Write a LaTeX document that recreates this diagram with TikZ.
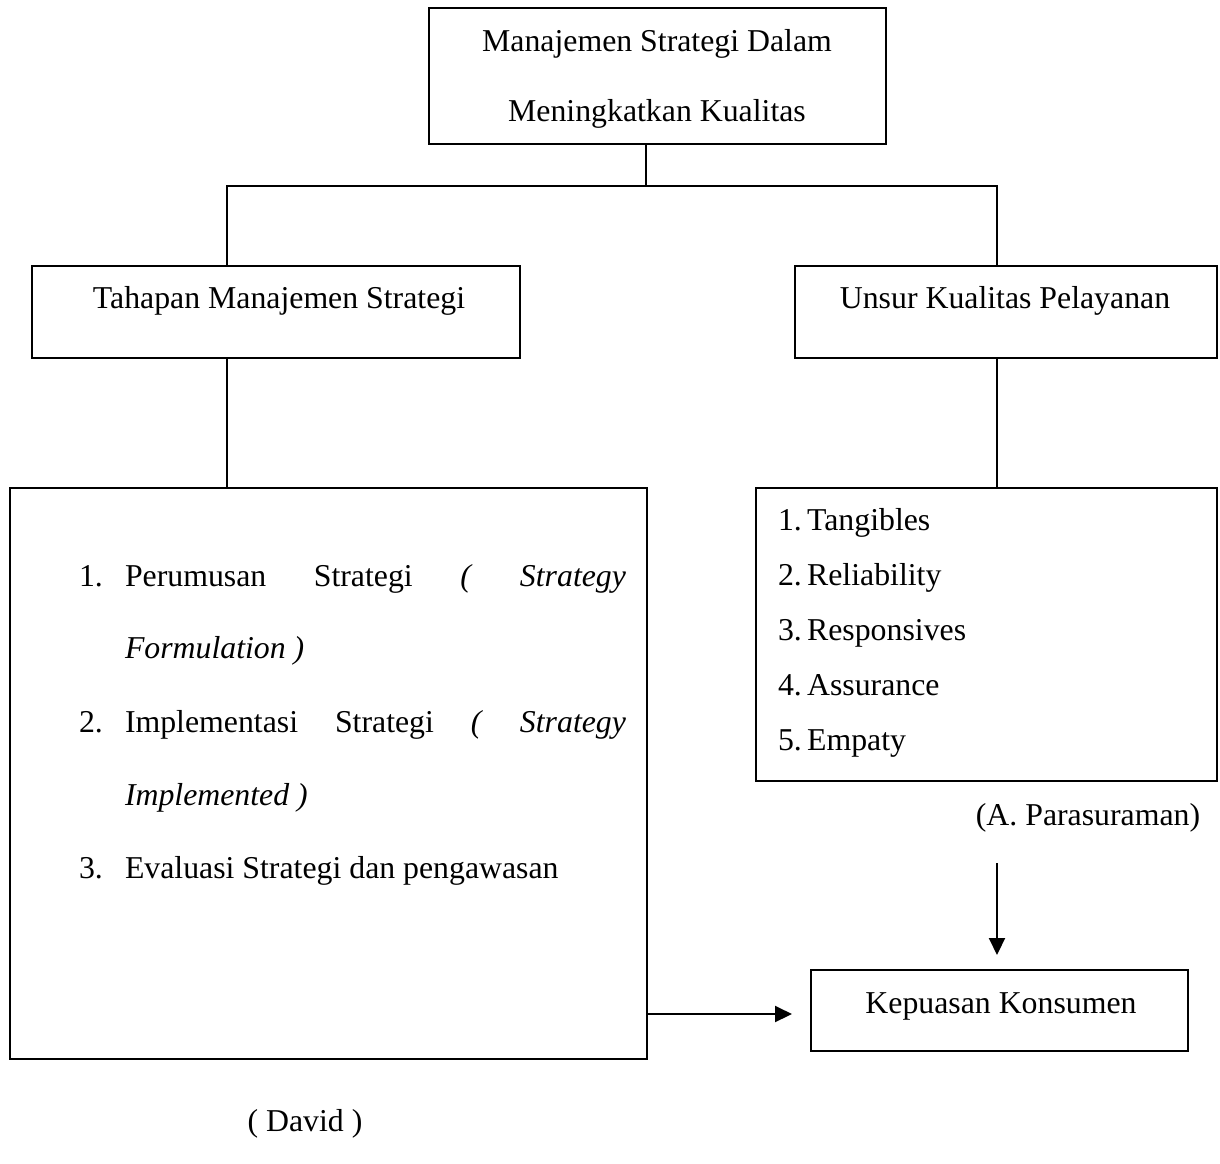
\documentclass[tikz,border=0pt]{standalone}
\usepackage{fontspec}
\setmainfont{Liberation Serif}
\usetikzlibrary{arrows.meta}

\begin{document}
\begin{tikzpicture}[
        x=0.5pt, y=-0.5pt,
        >={Triangle[length=8.5pt,width=8pt]},
        line width=1pt,
        every node/.style={font=\fontsize{15.9}{19}\selectfont, inner sep=0pt},
        box/.style={draw, line width=1pt, anchor=north west},
        teks/.style={anchor=base},
        butir/.style={anchor=base west}
    ]
        \useasboundingbox (0,0) rectangle (1220,1163);

        % Kotak utama
        \node[box, minimum width=228.5pt, minimum height=68pt] (utama) at (428,7) {};
        \node[teks] (utama1) at (657,51) {Manajemen Strategi Dalam};
        \node[teks] (utama2) at (657,121) {Meningkatkan Kualitas};

        % Cabang
        \node[box, minimum width=244pt, minimum height=46pt] (tahapan) at (31,265) {};
        \node[teks] (tahapanteks) at (279,308) {Tahapan Manajemen Strategi};

        \node[box, minimum width=211pt, minimum height=46pt] (unsur) at (794,265) {};
        \node[teks] (unsurteks) at (1005,308) {Unsur Kualitas Pelayanan};

        % Daftar kiri
        \node[box, minimum width=318.5pt, minimum height=285.5pt] (david) at (9,487) {};
        \node[butir] (n1) at (78,586) {1.};
        \node[butir] (b1) at (124,586) {\makebox[250.5pt][s]{Perumusan Strategi \textit{(} \textit{Strategy}}};
        \node[butir] (b1b) at (124,658) {\textit{Formulation )}};
        \node[butir] (n2) at (78,732) {2.};
        \node[butir] (b2) at (124,732) {\makebox[250.5pt][s]{Implementasi Strategi \textit{(} \textit{Strategy}}};
        \node[butir] (b2b) at (124,805) {\textit{Implemented )}};
        \node[butir] (n3) at (78,878) {3.};
        \node[butir] (b3) at (124,878) {Evaluasi Strategi dan pengawasan};
        \node[teks] (sumberkiri) at (305,1131) {( David )};

        % Daftar kanan
        \node[box, minimum width=230.5pt, minimum height=146.5pt] (parasu) at (755,487) {};
        \node[butir] (k1) at (777,530) {1.\,Tangibles};
        \node[butir] (k2) at (777,585) {2.\,Reliability};
        \node[butir] (k3) at (777,640) {3.\,Responsives};
        \node[butir] (k4) at (777,695) {4.\,Assurance};
        \node[butir] (k5) at (777,750) {5.\,Empaty};
        \node[teks] (sumberkanan) at (1088,825) {(A. Parasuraman)};

        % Hasil
        \node[box, minimum width=188.5pt, minimum height=40.5pt] (kepuasan) at (810,969) {};
        \node[teks] (kepuasanteks) at (1001,1013) {Kepuasan Konsumen};

        % Garis penghubung
        \coordinate (tengah) at (646,186);
        \coordinate (kiri) at (227,186);
        \coordinate (kanan) at (997,186);
        \coordinate (turun) at (997,863);
        \coordinate (keluar) at (646,1014);

        \draw (tengah |- utama.south) -- (tengah);
        \draw (kiri |- tahapan.north) -- (kiri) -- (kanan) -- (kanan |- unsur.north);
        \draw (kiri |- tahapan.south) -- (kiri |- david.north);
        \draw (kanan |- unsur.south) -- (kanan |- parasu.north);

        \draw[->, shorten >=7pt] (turun) -- (turun |- kepuasan.north);
        \draw[->, shorten >=9pt] (keluar) -- (keluar -| kepuasan.west);

    \end{tikzpicture}
\end{document}
